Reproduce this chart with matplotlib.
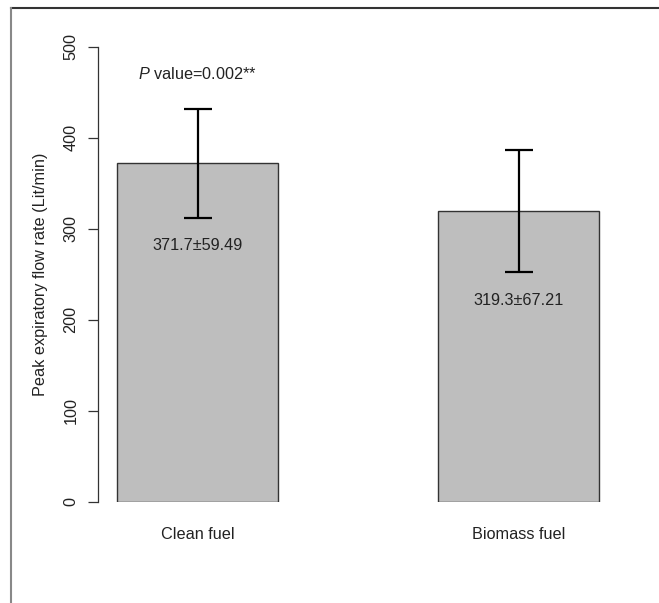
import numpy as np
import matplotlib
matplotlib.use("Agg")
import matplotlib.pyplot as plt
from matplotlib.lines import Line2D

plt.rcParams['font.family'] = ['Liberation Sans', 'DejaVu Sans']
plt.rcParams['mathtext.fontset'] = 'custom'
plt.rcParams['mathtext.it'] = 'Liberation Sans:italic'
plt.rcParams['mathtext.rm'] = 'Liberation Sans'

# PEFR by fuel type (mean +/- SD)
groups = ['Clean fuel', 'Biomass fuel']
means = [371.7, 319.3]
sds = [59.49, 67.21]
yticks = [0, 100, 200, 300, 400, 500]
pvalue_text = r'$\mathit{P}$ value=0.002**'

W, H = 659, 603
fig = plt.figure(figsize=(W / 100, H / 100), dpi=100)
ax = fig.add_axes([98 / W, (H - 501.7) / H, 542 / W, 455 / H])

txt = '#222222'
x = np.arange(len(groups))
ax.bar(x, means, width=0.5, color='#bebebe', edgecolor='#333333', linewidth=1.0)
ax.errorbar(x, means, yerr=sds, fmt='none', ecolor='black', elinewidth=1.6,
            capsize=10.4, capthick=1.6, clip_on=False)

# mean +/- sd labels under the error bar
for xi, m, s in zip(x, means, sds):
    ax.text(xi, m - s - 31, '%.1f\u00b1%.2f' % (m, s), ha='center', va='center',
            fontsize=11.7, color=txt)

ax.text(x[0], 470, pvalue_text, ha='center', va='center', fontsize=11.7, color=txt)

ax.set_xlim(-0.3104, 1.3786)
ax.set_ylim(0, 500)
ax.set_xticks(x)
ax.set_xticklabels(groups, fontsize=11.7, color=txt)
ax.tick_params(axis='x', length=0, pad=18)
ax.set_yticks(yticks)
ax.set_yticklabels([str(v) for v in yticks], rotation=90, va='center',
                   fontsize=11.7, color=txt)
ax.tick_params(axis='y', length=7.2, width=0.9, color='#333333', pad=7)

for side in ['top', 'right', 'bottom']:
    ax.spines[side].set_visible(False)
ax.spines['left'].set_bounds(0, 500)
ax.spines['left'].set_color('#333333')
ax.spines['left'].set_linewidth(0.9)
ax.patch.set_visible(False)

ax.text(-0.107, 0.5, 'Peak expiratory flow rate (Lit/min)', rotation=90,
        ha='center', va='center', transform=ax.transAxes, fontsize=11.7, color=txt)

# outer frame (left and top only)
fig.add_artist(Line2D([11 / W, 1], [1 - 8 / H, 1 - 8 / H], color='#333333', lw=1.5))
fig.add_artist(Line2D([11 / W, 11 / W], [0, 1 - 8 / H], color='#888888', lw=1.5))

fig.savefig('out.png', dpi=100)
